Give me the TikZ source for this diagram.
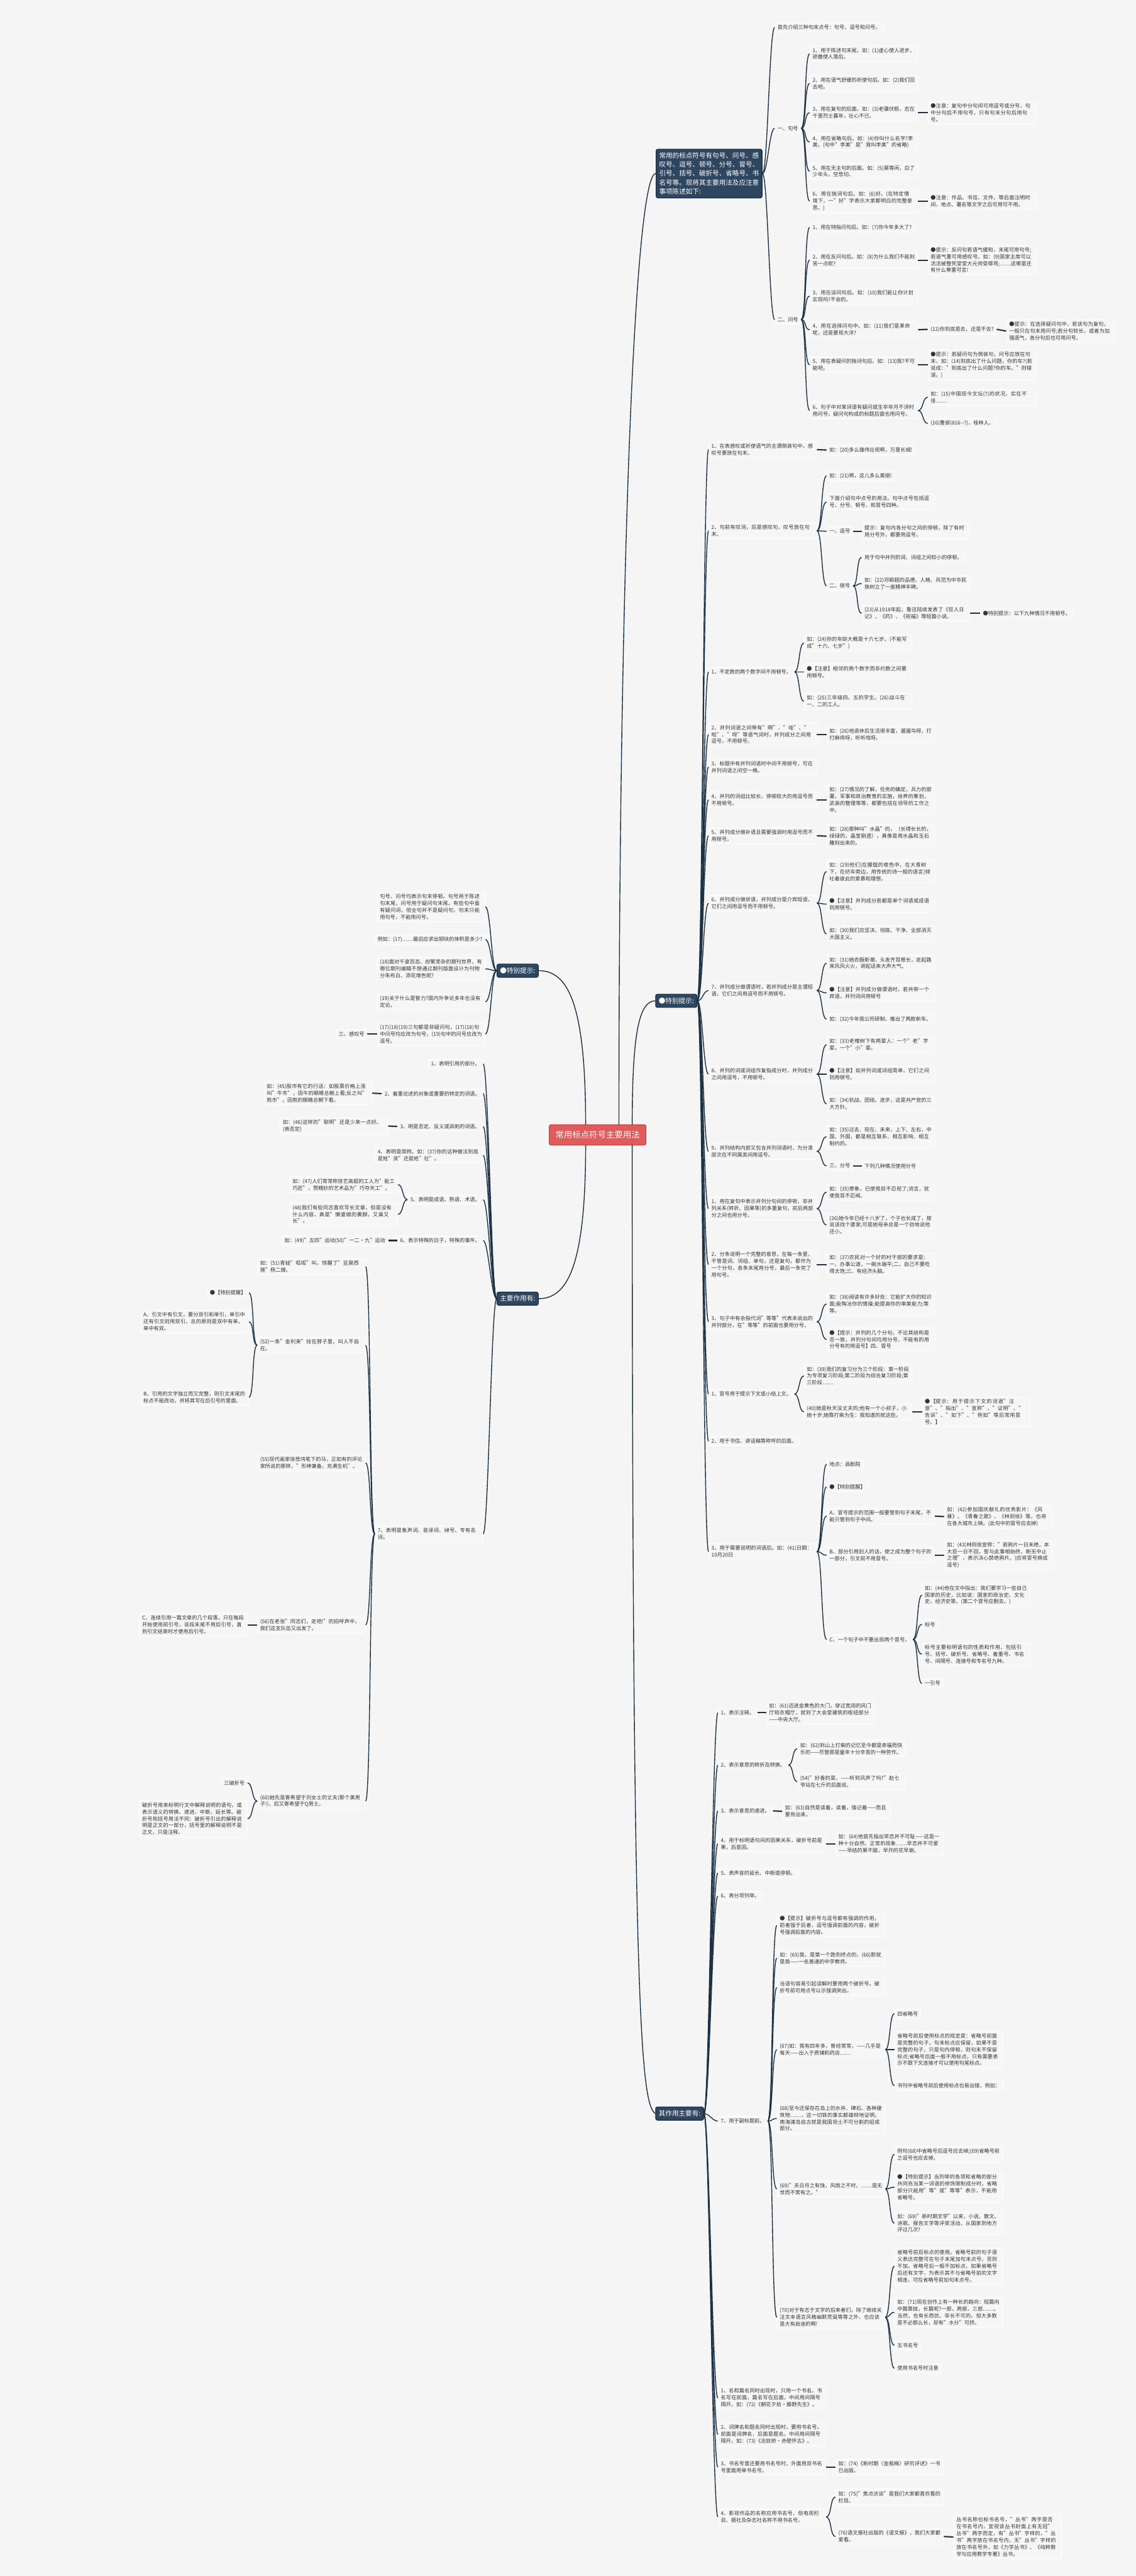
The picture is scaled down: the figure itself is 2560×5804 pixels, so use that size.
\documentclass[tikz,border=0pt]{standalone}
\usepackage{fontspec}
\setmainfont{Noto Sans CJK SC}
\XeTeXlinebreaklocale "zh"
\XeTeXlinebreakskip=0pt plus 1pt
\definecolor{bg}{HTML}{F5F5F5}
\definecolor{boxbg}{HTML}{F6F6F6}
\definecolor{txt}{HTML}{333333}
\definecolor{dk}{HTML}{2F4660}
\definecolor{dkb}{HTML}{1C2D3F}
\definecolor{ln}{HTML}{1E3246}
\definecolor{rootc}{HTML}{E05B5B}
\definecolor{rootb}{HTML}{B84444}
\newcommand\RC[2]{\draw[cn] (#1.east) .. controls +(12,0) and +(-12,0) .. (#2.west);}
\newcommand\LC[2]{\draw[cn] (#1.west) .. controls +(-12,0) and +(12,0) .. (#2.east);}
\newcommand\RS[2]{\draw[cns] (#1.east) -- (#2.west);}
\newcommand\LS[2]{\draw[cns] (#1.west) -- (#2.east);}
\begin{document}
\begin{tikzpicture}[x=1pt,y=-1pt,
  bx/.style={draw=white, line width=1.3pt, fill=boxbg, rounded corners=3pt, inner xsep=6pt, inner ysep=5pt, font=\fontsize{11.6}{15.4}\selectfont, text=txt, align=left},
  R/.style={bx, anchor=west},
  L/.style={bx, anchor=east},
  w/.style={text width=231pt},
  dkbox/.style={draw=dkb, line width=1.5pt, fill=dk, rounded corners=4pt, text=white, font=\fontsize{15}{20}\selectfont, inner xsep=7pt, inner ysep=8pt, align=left},
  rootbox/.style={draw=rootb, line width=1.5pt, fill=rootc, rounded corners=4pt, text=white, font=\fontsize{19}{22}\selectfont, minimum width=218pt, minimum height=46pt, inner xsep=8pt},
  cn/.style={draw=ln, line width=2pt},
  cns/.style={draw=ln, line width=3pt}]
\useasboundingbox (0,0) rectangle (2560,5804);
\fill[bg] (0,0) rectangle (2560,5804);

% ---------- root ----------
\node[rootbox] (root) at (1347,2557) {常用标点符号主要用法};

% ---------- right top block ----------
\node[dkbox, anchor=west, text width=225pt] (b1) at (1478,391) {常用的标点符号有句号、问号、感叹号、逗号、顿号、分号、冒号、引号、括号、破折号、省略号、书名号等。现将其主要用法及应注意事项陈述如下:};
\node[R] (a0) at (1746,62) {首先介绍三种句末点号：句号、逗号和问号。};
\node[R] (a1) at (1746,289) {一、句号};
\node[R,w] (a11) at (1825,121) {1、用于陈述句末尾。如：(1)虚心使人进步，骄傲使人落后。};
\node[R,w] (a12) at (1825,188) {2、用在语气舒缓的祈使句后。如：(2)我们回去吧。};
\node[R,w] (a13) at (1825,254) {3、用在复句的后面。如：(3)老骥伏枥，志在千里烈士暮年，壮心不已。};
\node[R,w] (a13n) at (2091,254) {●注意：复句中分句间可用逗号或分号，句中分句后不用句号，只有句末分句后用句号。};
\node[R,w] (a14) at (1825,320) {4、用在省略句后。如：(4)你叫什么名字?李美。(句中"李美"是"我叫李美"的省略)};
\node[R,w] (a15) at (1825,386) {5、用在无主句的后面。如：(5)莫等闲，白了少年头，空悲切。};
\node[R,w] (a16) at (1825,453) {6、用在独词句后。如：(6)好。(在特定情境下，一"好"字表示大家都明白的完整意思。)};
\node[R,w] (a16n) at (2091,453) {●注意：作品、书信、文件、等后面注明时间、地点、署名等文字之后可用可不用。};
\node[R] (a2) at (1746,720) {二、问号};
\node[R] (a21) at (1825,512) {1、用在特指问句后。如：(7)你今年多大了?};
\node[R,w] (a22) at (1825,586) {2、用在反问句后。如：(8)为什么我们不能刻苦一点呢?};
\node[R,w] (a22n) at (2091,586) {●提示：反问句若语气缓和，末尾可用句号;若语气重可用感叹号。如：(9)国家主席可以活活被整死堂堂大元帅受辱骂;……这哪里还有什么尊重可言!};
\node[R,w] (a23) at (1825,667) {3、用在设问句后。如：(10)我们能让你计划实现吗?不会的。};
\node[R,w] (a24) at (1825,743) {4、用在选择问句中。如：(11)我们是革命呢，还是要现大洋?};
\node[R] (a24a) at (2091,742) {(12)你到底是去，还是不去?};
\node[R,w] (a24b) at (2268,746) {●提示：在选择疑问句中，若该句为复句，一般只在句末用问号;若分句较长，或者为加强语气，各分句后也可用问号。};
\node[R,w] (a25) at (1825,822) {5、用在表疑问的独词句后。如：(13)我?不可能吧。};
\node[R,w] (a25n) at (2091,822) {●提示：若疑问句为倒装句，问号应放在句末，如：(14)到底出了什么问题，你的车?(若说成："到底出了什么问题?你的车。"则错误。)};
\node[R,w] (a26) at (1825,925) {6、句子中对某词语有疑问或生卒年月不详时用问号，疑问句构成的标题后面也用问号。};
\node[R,w] (a26a) at (2091,895) {如：(15)中国现今文坛(?)的状况，实在不佳……};
\node[R] (a26b) at (2091,954) {(16)曹邺(816-{}-?)，桂林人。};

\RC{b1}{a0}\RC{b1}{a1}\RC{b1}{a2}
\RC{a1}{a11}\RC{a1}{a12}\RC{a1}{a13}\RC{a1}{a14}\RC{a1}{a15}\RC{a1}{a16}
\RS{a13}{a13n}\RS{a16}{a16n}
\RC{a2}{a21}\RC{a2}{a22}\RC{a2}{a23}\RC{a2}{a24}\RC{a2}{a25}\RC{a2}{a26}
\RS{a22}{a22n}\RS{a24}{a24a}\RS{a24a}{a24b}\RS{a25}{a25n}\RC{a26}{a26a}\RC{a26}{a26b}

% ---------- right: special hints ----------
\node[dkbox, anchor=west] (sp) at (1477,2255) {●特别提示:};
\node[R,w] (s1) at (1597,1013) {1、在表感叹或祈使语气的主谓倒装句中，感叹号要放在句末。};
\node[R] (s1a) at (1863,1014) {如：(20)多么雄伟壮观啊，万里长城!};
\node[R,w] (s2) at (1597,1196) {2、句前有叹词，后是感叹句，叹号放在句末。};
\node[R] (s2a) at (1863,1072) {如：(21)啊，这儿多么美丽!};
\node[R,w] (s2b) at (1863,1131) {下面介绍句中点号的用法。句中点号包括逗号、分号、顿号、和冒号四种。};
\node[R] (s2c) at (1863,1197) {一、逗号};
\node[R,w] (s2c1) at (1942,1197) {提示：复句内各分句之间的停顿，除了有时用分号外，都要用逗号。};
\node[R] (s2d) at (1863,1320) {二、顿号};
\node[R] (s2d1) at (1942,1256) {用于句中并列的词、词组之间较小的停顿。};
\node[R,w] (s2d2) at (1942,1315) {如：(22)邓颖超的品德、人格、风范为中华民族树立了一座精神丰碑。};
\node[R,w] (s2d3) at (1942,1382) {(23)从1918年起，鲁迅陆续发表了《狂人日记》、《药》、《祝福》等短篇小说。};
\node[R] (s2d3a) at (2209,1382) {●特别提示：以下九种情况不用顿号。};
\node[R] (s3) at (1597,1514) {1、不定数的两个数字间不用顿号。};
\node[R,w] (s3a) at (1812,1449) {如：(24)你的年龄大概是十六七岁。(不能写成"十六、七岁")};
\node[R,w] (s3b) at (1812,1514) {●【注意】相邻的两个数字而非约数之间要用顿号。};
\node[R,w] (s3c) at (1812,1580) {如：(25)三年级四、五的学生。(26)战斗在一、二的工人。};
\node[R,w] (s4) at (1597,1655) {2、并列词语之间带有"啊"、"哇"、"啦"、"呀"等语气词时，并列成分之间用逗号，不用顿号。};
\node[R,w] (s4a) at (1863,1655) {如：(26)他退休后生活很丰富，遛遛鸟呀，打打麻将呀，听听戏呀。};
\node[R,w] (s5) at (1597,1728) {3、标题中有并列词语时中间不用顿号，可在并列词语之间空一格。};
\node[R,w] (s6) at (1597,1802) {4、并列的词组比较长、停顿较大的用逗号而不用顿号。};
\node[R,w] (s6a) at (1863,1802) {如：(27)情况的了解，任务的确定，兵力的部署，军事和政治教育的实施，给养的筹划，武装的整理等等，都要包括在领导的工作之中。};
\node[R,w] (s7) at (1597,1883) {5、并列成分做补语且需要强调时用逗号而不用顿号。};
\node[R,w] (s7a) at (1863,1884) {如：(28)那种叫"水晶"的，（长得长长的，绿绿的，晶莹剔透），真像是用水晶和玉石雕刻出来的。};
\node[R,w] (s8) at (1597,2035) {6、并列成分做状语，并列成分是介宾短语，它们之间用逗号而不用顿号。};
\node[R,w] (s8a) at (1863,1964) {如：(29)他们[在朦胧的夜色中，在大青树下，在纺车旁边，用传统的诗一般的语言]倾吐着彼此的爱慕和理想。};
\node[R,w] (s8b) at (1863,2037) {●【注意】并列成分若都是单个词语或成语则用顿号。};
\node[R,w] (s8c) at (1863,2104) {如：(30)我们应坚决、彻底、干净、全部消灭大国主义。};
\node[R,w] (s9) at (1597,2232) {7、并列成分做谓语时，若并列成分是主谓短语，它们之间用逗号而不用顿号。};
\node[R,w] (s9a) at (1863,2170) {如：(31)她衣服新潮，头发齐耳根长，走起路来风风火火，讲起话来大声大气。};
\node[R,w] (s9b) at (1863,2237) {●【注意】并列成分做谓语时，若共带一个宾语，并列词间用顿号};
\node[R,w] (s9c) at (1863,2296) {如：(32)今年我公司研制、推出了两款新车。};
\node[R,w] (s10) at (1597,2420) {8、并列的词或词组作复指成分时，并列成分之间用逗号，不用顿号。};
\node[R,w] (s10a) at (1863,2354) {如：(33)老槐树下有两辈人：一个"老"字辈，一个"小"辈。};
\node[R,w] (s10b) at (1863,2420) {●【注意】如并列词或词组简单，它们之间则用顿号。};
\node[R,w] (s10c) at (1863,2487) {如：(34)抗战、团结、进步，这是共产党的三大方针。};
\node[R,w] (s11) at (1597,2594) {9、并列结构内部又包含并列词语时，为分清层次在不同属类间用逗号。};
\node[R,w] (s11a) at (1863,2561) {如：(35)过去、现在、未来，上下、左右，中国、外国，都是相互联系、相互影响、相互制约的。};
\node[R] (s11b) at (1863,2627) {三、分号};
\node[R] (s11b1) at (1942,2627) {下列几种情况使用分号};
\node[R,w] (s12) at (1597,2723) {1、用在复句中表示并列分句间的停顿，非并列关系(转折、因果等)的多重复句，前后两部分之间也用分号。};
\node[R,w] (s12a) at (1863,2686) {如：(35)惨象，已使我目不忍视了;流言，犹使我耳不忍闻。};
\node[R,w] (s12b) at (1863,2760) {(36)她今年已经十八岁了，个子也长成了，按说该找个婆家;可是她母亲总是一个劲地说他还小。};
\node[R,w] (s13) at (1597,2849) {2、分条说明一个完整的意思，在每一条里，不管是词、词组、单句，还是复句，都作为一个分句，各条末尾用分号，最后一条完了用句号。};
\node[R,w] (s13a) at (1863,2849) {如：(37)农民对一个好的村干部的要求是：一、办事公道，一碗水端平;二、自己不要吃得太饱;三、有经济头脑。};
\node[R,w] (s14) at (1597,2978) {3、句子中有余指代词"等等"代表未说出的并列部分，在"等等"的前面也要用分号。};
\node[R,w] (s14a) at (1863,2938) {如：(38)阅读有许多好处：它能扩大你的知识面;能陶冶你的情操;能提高你的审美能力;等等。};
\node[R,w] (s14b) at (1863,3018) {●【提示：并列的几个分句，不论其结构是否一致，并列分句间均用分号，不能有的用分号有的用逗号】四、冒号};
\node[R] (s15) at (1597,3141) {1、冒号用于提示下文或小结上文。};
\node[R,w] (s15a) at (1812,3100) {如：(39)我们的复习分为三个阶段：第一阶段为专项复习阶段;第二阶段为综合复习阶段;第三阶段……};
\node[R,w] (s15b) at (1812,3181) {(40)她是秋天没丈夫的;他有一个小叔子，小她十岁;她靠打柴为生：我知道的就这些。};
\node[R,w] (s15b1) at (2078,3181) {●【提示：用于提示下文的词语"注意"、"指出"、"宣称"、"证明"、"告诉"、"如下"、"例如"等后常用冒号。】};
\node[R] (s16) at (1597,3247) {2、用于书信、讲话稿等称呼的后面。};
\node[R,w] (s17) at (1597,3496) {3、用于需要说明的词语后。如：(41)日期：10月20日};
\node[R] (s17a) at (1863,3299) {地点：县剧院};
\node[R] (s17b) at (1863,3350) {●【特别提醒】};
\node[R,w] (s17c) at (1863,3416) {A、冒号提示的范围一般要管到句子末尾，不能只管到句子中间。};
\node[R,w] (s17c1) at (2128,3417) {如：(42)参加国庆献礼的优秀影片：《风暴》、《青春之歌》、《林则徐》等，也将在各大城市上映。(此句中的冒号应去掉)};
\node[R,w] (s17d) at (1863,3504) {B、部分引用别人的话，使之成为整个句子的一部分，引文前不用冒号。};
\node[R,w] (s17d1) at (2128,3504) {如：(43)林则徐宣称："若鸦片一日未绝，本大臣一日不回，誓与此事相始终，断无中止之理"，表示决心禁绝鸦片。(应将冒号换成逗号)};
\node[R] (s17e) at (1863,3694) {C、一个句子中不要出现两个冒号。};
\node[R,w] (s17e1) at (2078,3594) {如：(44)他在文中指出：我们要学习一些自己国家的历史，比如说：国家的政治史、文化史、经济史等。(第二个冒号应删去。)};
\node[R] (s17e2) at (2078,3660) {标号};
\node[R,w] (s17e3) at (2078,3727) {标号主要标明语句的性质和作用，包括引号、括号、破折号、省略号、着重号、书名号、间隔号、连接号和专名号九种。};
\node[R] (s17e4) at (2078,3793) {一引号};

\foreach \n in {s1,s2,s3,s4,s5,s6,s7,s8,s9,s10,s11,s12,s13,s14,s15,s16,s17}{\RC{sp}{\n}}
\RS{s1}{s1a}
\RC{s2}{s2a}\RC{s2}{s2b}\RC{s2}{s2c}\RC{s2}{s2d}\RS{s2c}{s2c1}
\RC{s2d}{s2d1}\RC{s2d}{s2d2}\RC{s2d}{s2d3}\RS{s2d3}{s2d3a}
\RC{s3}{s3a}\RC{s3}{s3b}\RC{s3}{s3c}
\RS{s4}{s4a}\RS{s6}{s6a}\RS{s7}{s7a}
\RC{s8}{s8a}\RC{s8}{s8b}\RC{s8}{s8c}
\RC{s9}{s9a}\RC{s9}{s9b}\RC{s9}{s9c}
\RC{s10}{s10a}\RC{s10}{s10b}\RC{s10}{s10c}
\RC{s11}{s11a}\RC{s11}{s11b}\RS{s11b}{s11b1}
\RC{s12}{s12a}\RC{s12}{s12b}\RS{s13}{s13a}
\RC{s14}{s14a}\RC{s14}{s14b}
\RC{s15}{s15a}\RC{s15}{s15b}\RS{s15b}{s15b1}
\RC{s17}{s17a}\RC{s17}{s17b}\RC{s17}{s17c}\RC{s17}{s17d}\RC{s17}{s17e}
\RS{s17c}{s17c1}\RS{s17d}{s17d1}
\RC{s17e}{s17e1}\RC{s17e}{s17e2}\RC{s17e}{s17e3}\RC{s17e}{s17e4}

% ---------- right bottom ----------
\node[dkbox, anchor=west] (qz) at (1477,4762) {其作用主要有:};
\node[R] (z1) at (1618,3859) {1、表示注释。};
\node[R,w] (z1a) at (1727,3859) {如：(61)迈进金黄色的大门，穿过宽阔的风门厅和衣帽厅，就到了大会堂建筑的枢纽部分——中央大厅。};
\node[R] (z2) at (1618,3977) {2、表示意思的转折及转换。};
\node[R,w] (z2a) at (1797,3940) {如：(62)到山上打柴的记忆至今都是幸福而快乐的——尽管那是童年十分辛苦的一种劳作。};
\node[R,w] (z2b) at (1797,4014) {(54)"好香的菜，——听到风声了吗?"赵七爷站在七斤的后面说。};
\node[R] (z3) at (1618,4080) {3、表示意思的递进。};
\node[R,w] (z3a) at (1763,4081) {如：(63)自然是读着，读着，强记着——而且要背出来。};
\node[R,w] (z4) at (1618,4154) {4、用于标明语句间的因果关系，破折号前是果，后是因。};
\node[R,w] (z4a) at (1883,4154) {如：(64)他首先指出早恋并不可耻——这是一种十分自然、正常的现象……早恋并不可爱——早结的果不甜，早开的花早谢。};
\node[R] (z5) at (1618,4220) {5、表声音的延长、中断或停顿。};
\node[R] (z6) at (1618,4272) {6、表分项列举。};
\node[R] (z7) at (1618,4779) {7、用于副标题前。};
\node[R,w] (z7a) at (1751,4338) {●【提示】破折号与逗号都有强调的作用，前者强于后者，逗号强调前面的内容，破折号强调后面的内容。};
\node[R,w] (z7b) at (1751,4412) {如：(65)我，是第一个跑到终点的。(66)那就是我——一名普通的中学教师。};
\node[R,w] (z7c) at (1751,4478) {当语句容易引起误解时要用两个破折号。破折号前可用点号以示强调突出。};
\node[R,w] (z7d) at (1751,4618) {(67)如：我有四年多，曾经常常，——几乎是每天——出入于质铺和药店……};
\node[R] (z7d1) at (2016,4537) {四省略号};
\node[R,w] (z7d2) at (2016,4618) {省略号前后使用标点的规定是：省略号前面是完整的句子，句末标点应保留，如果不是完整的句子，只是句内停顿，则句末不保留标点;省略号后面一般不用标点，只有需要表示不跟下文连接才可以使用句尾标点。};
\node[R] (z7d3) at (2016,4699) {书刊中省略号前后使用标点也易出错，例如：};
\node[R,w] (z7e) at (1751,4773) {(68)至今还保存在岛上的水井、碑石、各种建筑物……，这一切铁的事实都雄辩地证明，南海诸岛自古就是我国领土不可分割的组成部分。};
\node[R,w] (z7f) at (1751,4932) {(69)"夫日月之有蚀，风雨之不时，……是无世而不常有之。"};
\node[R,w] (z7f1) at (2016,4854) {例句(68)中省略号后逗号应去掉;(69)省略号前之逗号也应去掉。};
\node[R,w] (z7f2) at (2016,4928) {●【特别提示】当列举的各项和省略的部分共同充当某一词语的修饰限制成分时，省略部分只能用"等"或"等等"表示，不能用省略号。};
\node[R,w] (z7f3) at (2016,5009) {如：(69)"新时期文学"以来，小说、散文、诗歌、报告文学等评奖活动，从国家到地方评过几次?};
\node[R,w] (z7g) at (1751,5221) {(70)对于有志于文学的后来者们，除了继续关注文本语言风格幽默荒诞等等之外，也应该是大有启迪的啊!};
\node[R,w] (z7g1) at (2016,5106) {省略号前后标点的使用。省略号前的句子语义表达完整可在句子末尾加句末点号，否则不加。省略号后一般不加标点，如果省略号后还有文字，为表示其不与省略号前的文字相连，可在省略号前加句末点号。};
\node[R,w] (z7g2) at (2016,5210) {如：(71)现在创作上有一种长的趋向：短篇向中篇靠拢，长篇呢?一部，两部，三部……。当然，也有长而优、非长不可的，但大多数是不必那么长，却有"水分"可挤。};
\node[R] (z7g3) at (2016,5284) {五书名号};
\node[R] (z7g4) at (2016,5336) {使用书名号时注意};
\node[R,w] (z8) at (1618,5403) {1、名和篇名同时出现时，只用一个书名。书名写在前面，篇名写在后面，中间用间隔号隔开。如：(72)《朝花夕拾·藤野先生》。};
\node[R,w] (z9) at (1618,5485) {2、词牌名和题名同时出现时，要用书名号。前面是词牌名，后面是题名，中间用间隔号隔开。如：(73)《念奴娇·赤壁怀古》。};
\node[R,w] (z10) at (1618,5559) {3、书名号里还要用书名号时，外面用双书名号里面用单书名号。};
\node[R,w] (z10a) at (1883,5559) {如：(74)《新时期〈金瓶梅〉研究评述》一书已出版。};
\node[R,w] (z11) at (1618,5671) {4、影视作品的名称应用书名号，但电视栏目、报社及杂志社名称不用书名号。};
\node[R,w] (z11a) at (1883,5626) {如：(75)"焦点访谈"是我们大家都喜欢看的栏目。};
\node[R,w] (z11b) at (1883,5715) {(76)语文报社出版的《语文报》，我们大家都爱看。};
\node[R,w] (z11b1) at (2149,5716) {丛书名称也标书名号，"丛书"两字是否在书名号内，宜视该丛书封面上有无冠"丛书"两字而定，有"丛书"字样的，"丛书"两字放在书名号内，无"丛书"字样的放在书名号外，如《力学丛书》、《纯粹数学与应用数学专著》丛书。};

\foreach \n in {z1,z2,z3,z4,z5,z6,z7,z8,z9,z10,z11}{\RC{qz}{\n}}
\RS{z1}{z1a}\RC{z2}{z2a}\RC{z2}{z2b}\RS{z3}{z3a}\RS{z4}{z4a}
\foreach \n in {z7a,z7b,z7c,z7d,z7e,z7f,z7g}{\RC{z7}{\n}}
\RC{z7d}{z7d1}\RC{z7d}{z7d2}\RC{z7d}{z7d3}
\RC{z7f}{z7f1}\RC{z7f}{z7f2}\RC{z7f}{z7f3}
\RC{z7g}{z7g1}\RC{z7g}{z7g2}\RC{z7g}{z7g3}\RC{z7g}{z7g4}
\RS{z10}{z10a}\RC{z11}{z11a}\RC{z11}{z11b}\RS{z11b}{z11b1}

% ---------- left: special hints ----------
\node[dkbox, anchor=east] (lsp) at (1214,2187) {●特别提示:};
\node[L,w] (l01) at (1094,2043) {句号、问号均表示句末停顿。句号用于陈述句末尾，问号用于疑问句末尾。有些句中虽有疑问词，但全句并不是疑问句，句末只能用句号，不能用问号。};
\node[L] (l02) at (1094,2117) {例如：(17)……最后应求出铜块的体积是多少?};
\node[L,w] (l03) at (1094,2183) {(18)面对千姿百态、纷繁芜杂的期刊世界，有哪位期刊编辑不想通过期刊版面设计为刊物分朱布白、添花增色呢?};
\node[L,w] (l04) at (1094,2257) {(19)关于什么是智力?国内外争论多年也没有定论。};
\node[L,w] (l05) at (1094,2330) {(17)(18)(19)三句都是非疑问句，(17)(18)句中问号均应改为句号，(19)句中的问号应改为逗号。};
\node[L] (l05a) at (828,2330) {三、感叹号};
\foreach \n in {l01,l02,l03,l04,l05}{\LC{lsp}{\n}}
\LS{l05}{l05a}

% ---------- left: main functions ----------
\node[dkbox, anchor=east] (lzy) at (1214,2926) {主要作用有:};
\node[L] (m1) at (1089,2397) {1、表明引用的部分。};
\node[L] (m2) at (1089,2464) {2、着重论述的对象或重要的特定的词语。};
\node[L,w] (m2a) at (839,2463) {如：(45)股市有它的行话：如股票价格上涨叫"牛市"，因牛的眼睛总朝上看;反之叫"熊市"，因熊的眼睛总朝下看。};
\node[L] (m3) at (1089,2538) {3、明是否定、反义或讽刺的词语。};
\node[L,w] (m3a) at (875,2537) {如：(46)这样的"聪明"还是少来一点好。(表否定)};
\node[L,w] (m4) at (1089,2603) {4、表明是简称。如：(37)你的这种做法到底是姓"资"还是姓"社"。};
\node[L] (m5) at (1089,2703) {5、表明是成语、熟语、术语。};
\node[L,w] (m5a) at (897,2669) {如：(47)人们常常称技艺高超的工人为"能工巧匠"，赞精妙的艺术品为"巧夺天工"。};
\node[L,w] (m5b) at (897,2736) {(48)我们有些同志喜欢写长文章，但是没有什么内容，真是"懒婆娘的裹脚，又臭又长"。};
\node[L] (m6) at (1089,2795) {6、表示特殊的日子，特殊的事件。};
\node[L] (m6a) at (875,2795) {如：(49)"五四"运动(50)"一二·九"运动};
\node[L,w] (m7) at (1089,3456) {7、表明是象声词、音译词、绰号、专有名词。};
\node[L,w] (m7a) at (824,2854) {如：(51)青蛙"呱呱"叫，惊醒了"豆腐西施"杨二嫂。};
\node[L,w] (m7b) at (824,3031) {(52)一条"金利来"拴在脖子里，叫人不自在。};
\node[L] (m7b1) at (561,2913) {●【特别提醒】};
\node[L,w] (m7b2) at (561,2978) {A、引文中有引文，要分双引和单引，单引中还有引文则用双引，总的原则是双中有单，单中有双。};
\node[L,w] (m7b3) at (561,3148) {B、引用的文字独立而又完整，则引文末尾的标点不能改动，并将其写在后引号的里面。};
\node[L,w] (m7c) at (824,3296) {(55)现代画家徐悲鸿笔下的马，正如有的评论家所说的那样，"形神兼备，充满生机"。};
\node[L,w] (m7d) at (824,3661) {(56)在老张"同志们，走吧!"的招呼声中，我们这支队伍又出发了。};
\node[L,w] (m7d1) at (558,3661) {C、连续引用一篇文章的几个段落，只在每段开始使用前引号，该段末尾不用后引号，直到引文结束时才使用后引号。};
\node[L,w] (m7e) at (824,4058) {(60)她先是寄希望于刘女士的丈夫(那个美男子!)，后又寄希望于Q男士。};
\node[L] (m7e1) at (558,4017) {三破折号};
\node[L,w] (m7e2) at (558,4098) {破折号用来标明行文中解释说明的语句，或表示语义的转换、递进、中断、延长等。破折号和括号用法不同：破折号引出的解释说明是正文的一部分，括号里的解释说明不是正文，只是注释。};
\foreach \n in {m1,m2,m3,m4,m5,m6,m7}{\LC{lzy}{\n}}
\LS{m2}{m2a}\LS{m3}{m3a}\LC{m5}{m5a}\LC{m5}{m5b}\LS{m6}{m6a}
\foreach \n in {m7a,m7b,m7c,m7d,m7e}{\LC{m7}{\n}}
\LC{m7b}{m7b1}\LC{m7b}{m7b2}\LC{m7b}{m7b3}
\LS{m7d}{m7d1}
\LC{m7e}{m7e1}\LC{m7e}{m7e2}

% ---------- root connectors ----------
\draw[cn] (1395,2534) .. controls (1395,1300) and (1430,391) .. (b1.west);
\draw[cn] (1425,2534) .. controls (1425,2330) and (1440,2255) .. (sp.west);
\draw[cn] (1425,2580) .. controls (1425,4550) and (1445,4740) .. (qz.west);
\draw[cn] (1320,2534) .. controls (1320,2260) and (1280,2187) .. (lsp.east);
\draw[cn] (1320,2580) .. controls (1320,2850) and (1280,2926) .. (lzy.east);
\end{tikzpicture}
\end{document}
